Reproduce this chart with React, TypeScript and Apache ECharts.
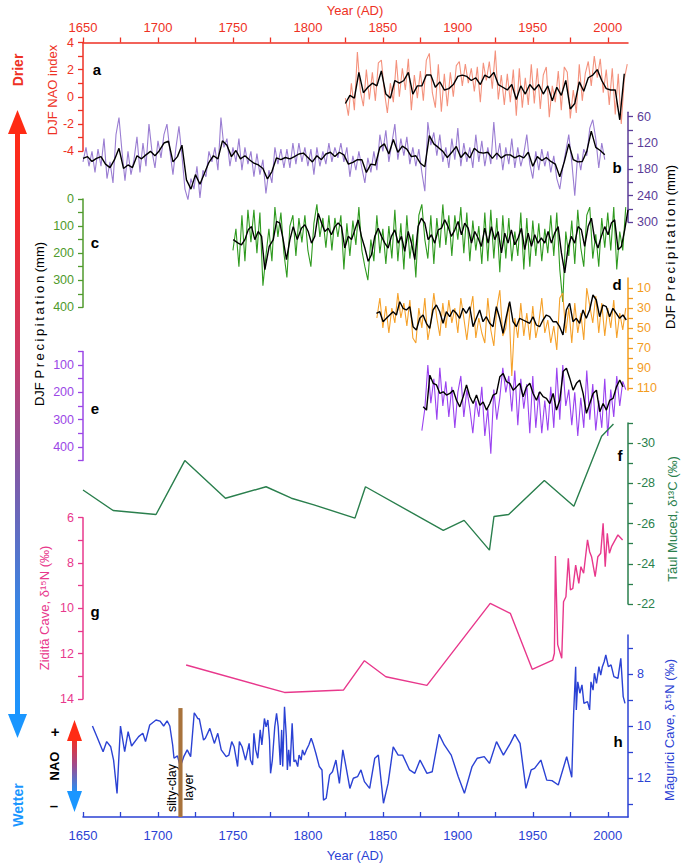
import React, { useEffect, useRef } from "react";
import * as echarts from "echarts";

const FONT = "'Liberation Sans', Arial, Helvetica, sans-serif";

// ---------- x axis (years) ----------
const xTickYears = [1650, 1675, 1700, 1725, 1750, 1775, 1800, 1825, 1850, 1875, 1900, 1925, 1950, 1975, 2000];
const xLabelYears = [1650, 1700, 1750, 1800, 1850, 1900, 1950, 2000];

// ---------- a: DJF NAO index ----------
const naoRawStart = 1825;
const naoRawStep = 2;
const naoRaw = [
  -0.1, -1.4, 1.0, -1.0, 3.3, 0.4, -0.7, 2.0, -0.2, 1.8,
  -0.3, 2.5, 2.7, 0.4, -1.2, 1.0, -0.4, 2.7, 0.0, 2.1,
  0.5, 2.8, -1.0, 1.6, -0.1, 1.9, -0.3, 2.7, 3.2, 0.3,
  -0.8, 2.4, -1.1, 1.7, -0.7, 1.8, 0.0, 2.3, 2.6, 0.8,
  2.4, 1.0, 2.1, 0.4, 2.2, -0.4, 2.5, 1.2, 2.6, 0.6,
  3.4, -0.2, 1.6, -0.6, 1.7, -0.4, 2.0, -1.4, 2.1, -0.8,
  1.4, -0.6, 2.4, -0.5, 2.1, -0.9, 1.6, 2.2, -1.5, 0.8,
  -0.4, 1.9, -1.0, 2.2, 1.8, -1.6, 0.5, -1.2, 2.4, -0.3,
  1.7, 2.6, 0.8, 3.0, 1.4, 2.8, 0.3, 2.0, -0.6, 2.1,
  -1.3, 1.7, -2.0, 1.3, 2.4,
];
const naoSmoothStart = 1825;
const naoSmoothStep = 3;
const naoSmooth = [
  -0.5, 0.1, -0.1, 1.8, 0.3, 0.7, 1.0, 0.8, 1.9, 0.2,
  -0.1, 1.2, 1.0, 1.2, 1.8, 0.2, 0.8, 0.8, 1.6, 1.6,
  0.7, 1.1, 0.5, 0.6, 0.9, 1.5, 1.6, 1.5, 1.2, 1.4,
  0.9, 1.6, 1.4, 1.8, 0.9, 0.7, 0.5, 0.9, -0.2, 0.8,
  0.2, 0.9, 0.5, 0.9, 0.2, 0.8, -0.3, 0.7, 0.1, 1.2,
  -0.9, -0.5, 1.1, 0.4, 1.4, 1.6, 2.0, 1.2, 0.6, 0.5,
  0.5, -1.7, 1.7,
];

// ---------- b: DJF precipitation (mm) ----------
const precBRawStart = 1650;
const precBRawStep = 2;
const precBRaw = [
  163, 130, 173, 139, 187, 134, 173, 110, 201, 163,
  211, 101, 62, 139, 206, 139, 192, 158, 106, 187,
  120, 173, 77, 139, 177, 115, 154, 101, 77, 139,
  192, 130, 82, 149, 225, 249, 201, 225, 173, 245,
  182, 197, 139, 163, 130, 182, 62, 130, 110, 173,
  130, 163, 110, 182, 130, 168, 139, 197, 144, 192,
  158, 235, 182, 211, 130, 168, 134, 177, 134, 177,
  120, 168, 120, 163, 130, 173, 134, 192, 130, 173,
  139, 168, 120, 163, 130, 154, 120, 163, 130, 197,
  149, 182, 139, 177, 211, 154, 187, 139, 182, 101,
  139, 91, 163, 120, 77, 158, 110, 149, 106, 168,
  130, 173, 134, 187, 230, 72, 125, 96, 149, 101,
  163, 130, 177, 110, 158, 86, 173, 120, 163, 130,
  177, 101, 163, 115, 173, 130, 168, 72, 158, 120,
  182, 130, 168, 110, 177, 130, 173, 144, 101, 168,
  201, 139, 182, 134, 173, 139, 187, 149, 201, 225,
  177, 139, 101, 163, 240, 144, 182, 134, 149, 86,
  67, 110, 177, 120, 158,
];
const precBSmoothStart = 1650;
const precBSmoothStep = 3;
const precBSmooth = [
  155, 151, 162, 155, 151, 168, 176, 158, 132, 178,
  170, 176, 149, 156, 147, 139, 149, 137, 120, 116,
  163, 151, 125, 204, 225, 192, 214, 189, 164, 149,
  156, 115, 125, 151, 137, 156, 149, 158, 166, 170,
  178, 202, 185, 154, 158, 153, 156, 151, 145, 143,
  153, 163, 149, 158, 145, 141, 151, 141, 147, 168,
  164, 158, 158, 187, 168, 170, 130, 122, 145, 112,
  141, 127, 134, 151, 149, 166, 174, 103, 122, 130,
  139, 153, 141, 128, 153, 141, 154, 132, 141, 143,
  141, 155, 143, 154, 147, 147, 154, 149, 154, 141,
  173, 151, 160, 153, 162, 168, 197, 163, 122, 158,
  163, 162, 139, 93, 130, 137, 147,
];

// ---------- c: DJF precipitation (mm) ----------
const precCRawStart = 1750;
const precCRawStep = 2;
const precCRaw = [
  190, 110, 250, 60, 230, 40, 160, 40, 200, 50,
  320, 210, 110, 230, 30, 140, 50, 200, 290, 100,
  60, 210, 70, 160, 60, 190, 250, 90, 20, 140,
  70, 180, 60, 190, 70, 140, 60, 260, 90, 210,
  80, 170, 30, 190, 250, 300, 150, 230, 60, 200,
  110, 240, 100, 220, 40, 230, 90, 260, 60, 220,
  130, 290, 60, 20, 150, 220, 60, 240, 70, 180,
  20, 170, 60, 210, 60, 150, 30, 200, 50, 230,
  80, 190, 100, 240, 50, 230, 40, 220, 70, 270,
  60, 220, 70, 230, 120, 210, 50, 260, 70, 250,
  80, 210, 90, 230, 110, 200, 60, 210, 50, 260,
  380, 120, 210, 80, 240, 40, 180, 250, 60, 30,
  220, 130, 250, 70, 180, 50, 190, 30, 260, 120,
  190, 30,
];
const precCSmooth: [number, number][] = [
  [1750.2, 150], [1753.5, 163], [1755.7, 169], [1758, 150], [1760.2, 114], [1762.4, 102], [1764.6, 150],
  [1766.9, 120], [1769.1, 138], [1771.3, 261], [1774.2, 175], [1776.9, 150], [1779.1, 83], [1781.3, 89],
  [1783.5, 150], [1785.7, 224], [1788, 150], [1790.2, 102], [1792.9, 150], [1795.7, 108], [1798, 95],
  [1800.2, 120], [1802.4, 163], [1804.6, 138], [1806.9, 53], [1809.1, 89], [1811.3, 120], [1813.5, 108],
  [1815.7, 132], [1818, 102], [1820.2, 89], [1822.4, 102], [1824.6, 181], [1826.9, 138], [1829.1, 150],
  [1831.3, 114], [1833.5, 77], [1835.7, 138], [1838, 181], [1840.2, 230], [1842.4, 206], [1844.6, 138],
  [1846.9, 108], [1849.1, 138], [1851.3, 163], [1853.5, 181], [1855.7, 138], [1858, 114], [1860.2, 163],
  [1862.4, 138], [1864.6, 193], [1866.9, 120], [1869.1, 163], [1871.3, 224], [1873.5, 102], [1875.7, 71],
  [1878, 89], [1880.2, 150], [1882.4, 132], [1884.6, 163], [1886.9, 114], [1889.1, 108], [1891.3, 77],
  [1893.5, 102], [1895.7, 138], [1898, 114], [1900.2, 83], [1902.4, 132], [1904.6, 89], [1906.9, 108],
  [1909.1, 163], [1911.3, 120], [1913.5, 144], [1915.7, 175], [1918, 108], [1920.2, 163], [1922.4, 102],
  [1924.6, 150], [1926.9, 120], [1929.1, 199], [1931.3, 126], [1933.5, 163], [1935.7, 114], [1938, 169],
  [1940.2, 144], [1942.4, 108], [1944.6, 187], [1946.9, 126], [1949.1, 175], [1951.3, 132], [1953.5, 163],
  [1955.7, 144], [1958, 163], [1960.2, 120], [1962.4, 163], [1964.6, 126], [1966.9, 102], [1969.1, 199],
  [1971.3, 273], [1973.5, 181], [1975.7, 138], [1978, 163], [1980.2, 102], [1982.4, 114], [1984.6, 175],
  [1986.9, 102], [1989.1, 71], [1991.3, 150], [1993.5, 181], [1995.7, 138], [1998, 102], [2000.2, 132],
  [2002.4, 89], [2004.6, 77], [2006.9, 187], [2009.1, 175], [2011.3, 114], [2013.5, 40],
];

// ---------- d: DJF precipitation (mm) ----------
const precDRawStart = 1846;
const precDRawStep = 2;
const precDRaw = [
  40, 20, 50, 28, 55, 30, 45, 15, 40, 25,
  48, 22, 60, 65, 30, 50, 20, 62, 45, 15,
  40, 58, 25, 50, 22, 45, 30, 55, 20, 40,
  62, 35, 18, 60, 40, 55, 65, 20, 52, 68,
  30, 12, 58, 50, 25, 98, 40, 60, 25, 58,
  35, 62, 28, 60, 45, 20, 55, 42, 65, 48,
  72, 20, 15, 55, 30, 65, 25, 55, 35, 62,
  10, 28, 45, 18, 55, 25, 58, 30, 50, 22,
  60, 35, 52, 30,
];
const precDSmoothStart = 1845.7;
const precDSmoothStep = 2.222;
const precDSmooth = [
  35.3, 33.7, 43.7, 40.3, 37, 33.7, 37, 23.7, 30.3, 32,
  28.7, 48.7, 52, 40.3, 37, 45.3, 50.3, 32, 27, 33.7,
  45.3, 33.7, 38.7, 32, 35.3, 40.3, 30.3, 35.3, 28.7, 48.7,
  40.3, 32, 43.7, 38.7, 45.3, 48.7, 28.7, 40.3, 55.3, 38.7,
  23.7, 43.7, 48.7, 40.3, 42, 43.7, 45.3, 38.7, 47, 48.7,
  42, 37, 38.7, 43.7, 43.7, 48.7, 57, 32, 25.3, 43.7,
  40.3, 45.3, 32, 40.3, 32, 17, 22, 38.7, 27, 28.7,
  38.7, 30.3, 35.3, 40.3, 37, 42,
];

// ---------- e: DJF precipitation (mm) ----------
const precERawStart = 1876;
const precERawStep = 2;
const precERaw = [
  340, 260, 100, 240, 150, 300, 110, 250, 160, 290,
  180, 330, 200, 140, 290, 190, 260, 350, 230, 290,
  180, 360, 260, 425, 190, 300, 220, 110, 200, 140,
  270, 120, 320, 150, 260, 170, 350, 140, 330, 200,
  350, 230, 340, 180, 330, 110, 300, 100, 250, 190,
  320, 200, 360, 220, 330, 120, 300, 170, 340, 230,
  330, 150, 360, 190, 290, 140, 250, 160, 190,
];
const precESmoothStart = 1876.9;
const precESmoothStep = 2.222;
const precESmooth = [
  253, 265, 137, 167, 173, 204, 198, 210, 204, 192,
  229, 253, 216, 173, 216, 241, 210, 247, 235, 265,
  241, 210, 204, 143, 131, 161, 167, 192, 180, 167,
  216, 180, 167, 204, 229, 198, 216, 222, 241, 204,
  265, 229, 124, 112, 149, 192, 167, 155, 204, 277,
  241, 204, 192, 271, 241, 265, 229, 222, 180, 155,
  180,
];

// ---------- f: Tăul Muced δ13C (‰) ----------
const taulMuced: [number, number][] = [
  [1650, -27.67], [1670.1, -26.65], [1698.7, -26.45], [1717.9, -29.13], [1745, -27.26], [1772.1, -27.83],
  [1789, -27.26], [1804, -26.93], [1831.4, -26.27], [1838.4, -27.83], [1890.3, -25.66], [1904.2, -26.16],
  [1921.1, -24.68], [1924.1, -26.35], [1933.9, -26.45], [1957.7, -28.14], [1977.4, -26.86], [1995.9, -30.34],
  [2003.8, -30.95],
];

// ---------- g: Zidită Cave δ15N (‰) ----------
const ziditaCave: [number, number][] = [
  [1718.8, 12.5], [1784.4, 13.71], [1823.8, 13.6], [1837.7, 12.31], [1852, 13.02], [1879.4, 13.4],
  [1921.6, 9.78], [1935, 10.22], [1949.6, 12.69], [1963.3, 12.28], [1964.4, 11.98], [1965.1, 7.69],
  [1966.6, 11.6], [1969.3, 12.2], [1970.5, 9.71], [1972.1, 9.49], [1973.7, 7.79], [1975.1, 9.19],
  [1976.7, 9.12], [1978.6, 8.09], [1980.7, 8.9], [1982.1, 8.16], [1983.9, 8.45], [1986.5, 6.98],
  [1987.9, 7.5], [1989.2, 7.72], [1991.6, 8.6], [1993.4, 7.72], [1995.3, 7.57], [1996.9, 6.25],
  [1998.3, 8.16], [1999.7, 6.69], [2001.1, 7.57], [2002.5, 7.28], [2006.8, 6.76], [2009.9, 6.98],
];

// ---------- h: Măgurici Cave δ15N (‰) ----------
const maguriciCave: [number, number][] = [
  [1656.3, 10.0], [1659.3, 10.41], [1663.4, 10.99], [1665.8, 10.6], [1668.5, 10.8], [1670.4, 11.31],
  [1672.7, 12.59], [1675, 10.0], [1677.8, 10.99], [1680.1, 10.22], [1682.4, 10.77], [1687.1, 10.41],
  [1689.9, 10.28], [1691.7, 10.6], [1694.5, 9.96], [1698.7, 9.77], [1701.4, 9.81], [1703.8, 10.0],
  [1706.1, 9.8], [1707.9, 10.0], [1709.8, 10.73], [1710.7, 11.24], [1713, 11.15], [1714.9, 11.56],
  [1717.2, 11.18], [1719.5, 10.92], [1721.8, 11.18], [1724.2, 9.49], [1726.5, 9.71], [1727.6, 9.73],
  [1730.4, 10.54], [1731.6, 10.47], [1734.6, 10.09], [1737.6, 10.67], [1739.9, 10.28], [1742.2, 10.92],
  [1745.5, 11.18], [1747.3, 11.12], [1749.2, 10.6], [1750.8, 10.8], [1753.1, 11.56], [1754.3, 10.6],
  [1756.1, 10.8], [1758.4, 11.31], [1760.8, 10.67], [1761.7, 11.31], [1763.1, 11.5], [1764, 10.28],
  [1765.2, 10.92], [1766.6, 11.24], [1768.2, 10.15], [1769.3, 10.73], [1771, 9.71], [1772.1, 10.03],
  [1773.3, 9.77], [1774.4, 10.54], [1775.1, 11.82], [1776.3, 11.31], [1777.9, 10.03], [1779.1, 9.51],
  [1780.2, 10.03], [1781.6, 11.5], [1782.5, 10.15], [1783.2, 11.56], [1784.4, 9.26], [1785.6, 10.41],
  [1786.3, 11.69], [1787.2, 10.92], [1788.1, 11.56], [1789.5, 9.9], [1790.7, 11.37], [1791.8, 11.31],
  [1793.2, 11.56], [1794.1, 11.12], [1795.5, 11.31], [1796.4, 10.92], [1797.6, 11.12], [1799, 10.92],
  [1800.6, 10.73], [1802.2, 10.47], [1803.4, 10.67], [1805.3, 11.05], [1807.6, 11.56], [1809.4, 11.69],
  [1810.4, 12.85], [1812.2, 12.78], [1814.5, 11.88], [1816.4, 11.76], [1818.7, 11.31], [1821, 12.21],
  [1823.3, 10.92], [1825.4, 11.56], [1828, 12.4], [1830.3, 12.01], [1833.1, 11.95], [1835.4, 11.69],
  [1837.7, 12.14], [1841.2, 12.4], [1844.6, 11.24], [1847, 11.12], [1850.4, 12.97], [1853.5, 12.21],
  [1856.9, 10.8], [1860.2, 11.12], [1863.2, 11.12], [1867.8, 11.69], [1871.3, 11.82], [1874.8, 11.31],
  [1879.4, 11.82], [1882.9, 11.76], [1887.5, 10.32], [1891, 10.73], [1895.6, 11.12], [1900.3, 11.95],
  [1904.4, 12.59], [1909.5, 11.56], [1913, 11.24], [1917.6, 11.18], [1921.1, 11.44], [1925.8, 10.6],
  [1930.4, 11.12], [1935, 10.67], [1938, 10.32], [1941.5, 10.67], [1945.4, 12.4], [1948.9, 11.69],
  [1951.2, 11.63], [1955.4, 11.31], [1959.3, 12.08], [1962.8, 12.1], [1967, 12.27], [1972.6, 11.18],
  [1976, 11.97], [1977.2, 9.58], [1978.6, 7.72], [1979, 9.38], [1980, 8.3], [1981.4, 8.74],
  [1982.8, 8.42], [1984.1, 9.13], [1986.5, 9.06], [1987.9, 9.38], [1988.8, 8.3], [1990.2, 8.62],
  [1991.1, 7.97], [1992.5, 8.36], [1994.1, 7.72], [1995.3, 8.04], [1996.4, 7.72], [1997.6, 7.53],
  [1998.7, 7.27], [2000.4, 7.72], [2002.2, 7.65], [2004.1, 8.1], [2006.8, 8.17], [2008.7, 7.4],
  [2010.3, 8.87], [2011.5, 9.13],
];

// silty-clay layer: [yearFrom, yearTo, valueTop, valueBottom] on the h axis
const siltyClayLayer = [[1713.6, 1716.4, 9.31, 13.5]];

// ---------- axis ticks ----------
const aTicks = [-4, -3, -2, -1, 0, 1, 2, 3, 4];
const aLabels = [-4, -2, 0, 2, 4];
const bTicks = [60, 90, 120, 150, 180, 210, 240, 270, 300];
const bLabels = [60, 120, 180, 240, 300];
const cTicks = [0, 50, 100, 150, 200, 250, 300, 350, 400];
const cLabels = [0, 100, 200, 300, 400];
const dTicks = [10, 20, 30, 40, 50, 60, 70, 80, 90, 100, 110];
const dLabels = [10, 30, 50, 70, 90, 110];
const eTicks = [50, 100, 150, 200, 250, 300, 350, 400, 450];
const eLabels = [100, 200, 300, 400];
const fTicks = [-31, -30, -29, -28, -27, -26, -25, -24, -23, -22];
const fLabels = [-30, -28, -26, -24, -22];
const gTicks = [6, 7, 8, 9, 10, 11, 12, 13, 14];
const gLabels = [6, 8, 10, 12, 14];
const hTicks = [7, 8, 9, 10, 11, 12, 13];
const hLabels = [8, 10, 12];

const C = {
  red: "#ee3124",
  naoRaw: "#f4927d",
  bAxis: "#5b3c98",
  bRaw: "#9a7dd2",
  cAxis: "#4f9a2c",
  cRaw: "#2f9a1f",
  dAxis: "#f39c1e",
  dRaw: "#f5a12a",
  eAxis: "#9b47e6",
  eRaw: "#9a42f0",
  f: "#2a7f4d",
  g: "#e8388c",
  h: "#2b42d4",
  brown: "#a8733c",
};

const series1 = (start: number, step: number, vals: number[]) => vals.map((v, i) => [start + i * step, v]);

export default function App() {
  const ref = useRef<HTMLDivElement>(null);

  useEffect(() => {
    document.body.style.margin = "0";
    if (!ref.current) return;
    const chart = echarts.init(ref.current, null, { renderer: "svg" });

    const L = 83;
    const R = 57;
    const grids = [
      { top: 42.5, height: 108.5 },
      { top: 112.3, height: 109.7 },
      { top: 199, height: 108.3 },
      { top: 278, height: 112 },
      { top: 351.4, height: 109.2 },
      { top: 423, height: 181 },
      { top: 517.7, height: 181.3 },
      { top: 635, height: 182 },
    ];

    const plain = (v: number) => String(v);

    const yAx = (
      i: number,
      pos: "left" | "right",
      color: string,
      min: number,
      max: number,
      inverse: boolean,
      ticks: number[],
      labels: number[]
    ) => ({
      type: "value",
      gridIndex: i,
      position: pos,
      min,
      max,
      inverse,
      axisLine: { show: true, onZero: false, lineStyle: { color, width: 1.5 } },
      axisTick: { show: true, length: 5, customValues: ticks, lineStyle: { color, width: 1.3 } },
      axisLabel: {
        show: true,
        customValues: labels,
        formatter: plain,
        color,
        fontSize: 12.5,
        fontFamily: FONT,
        margin: 9,
      },
      splitLine: { show: false },
    });

    const xAx = (i: number) => {
      const shown = i === 0 || i === 7;
      const color = i === 0 ? C.red : C.h;
      return {
        type: "value",
        gridIndex: i,
        min: 1650,
        max: 2013.5,
        show: shown,
        position: i === 0 ? "top" : "bottom",
        axisLine: { show: shown, onZero: false, lineStyle: { color, width: 1.5 } },
        axisTick: {
          show: shown,
          inside: i === 7,
          length: 5,
          customValues: xTickYears,
          lineStyle: { color, width: 1.3 },
        },
        axisLabel: {
          show: shown,
          customValues: xLabelYears,
          formatter: plain,
          color,
          fontSize: 13,
          fontFamily: FONT,
          margin: i === 0 ? 9 : 12,
        },
        splitLine: { show: false },
      };
    };

    const line = (xi: number, data: number[][], color: string, width: number, z: number) => ({
      type: "line",
      xAxisIndex: xi,
      yAxisIndex: xi,
      data,
      symbol: "none",
      silent: true,
      z,
      lineStyle: { color, width },
    });

    const rot = Math.PI / 2;
    const vtext = (x: number, y: number, text: string, color: string, size: number, weight = "normal") => ({
      type: "text",
      x,
      y,
      rotation: rot,
      silent: true,
      style: {
        text,
        fill: color,
        fontSize: size,
        fontWeight: weight,
        fontFamily: FONT,
        align: "center",
        verticalAlign: "middle",
        textAlign: "center",
        textVerticalAlign: "middle",
      },
    });
    const htext = (x: number, y: number, t: string, color: string, size: number, weight = "normal") => ({
      type: "text",
      x,
      y,
      silent: true,
      style: {
        text: t,
        fill: color,
        fontSize: size,
        fontWeight: weight,
        fontFamily: FONT,
        align: "center",
        verticalAlign: "middle",
        textAlign: "center",
        textVerticalAlign: "middle",
      },
    });
    const letter = (x: number, y: number, t: string) => htext(x, y, t, "#000", 15, "bold");

    const bigGrad = new echarts.graphic.LinearGradient(0, 0, 0, 1, [
      { offset: 0, color: "#ff2b14" },
      { offset: 0.15, color: "#f42b2c" },
      { offset: 0.38, color: "#cc3a66" },
      { offset: 0.6, color: "#7c5cab" },
      { offset: 0.8, color: "#3b84e2" },
      { offset: 1, color: "#1a96ff" },
    ]);
    const smallGrad = new echarts.graphic.LinearGradient(0, 0, 0, 1, [
      { offset: 0, color: "#ff2b14" },
      { offset: 0.5, color: "#a04a8c" },
      { offset: 1, color: "#1a96ff" },
    ]);

    const precLabel = "DJF P\u2009r\u2009e\u2009c\u2009i\u2009p\u2009i\u2009t\u2009a\u2009t\u2009i\u2009o\u2009n (mm)";

    const graphic = [
      // big Drier/Wetter arrow
      { type: "rect", silent: true, shape: { x: 15, y: 128, width: 5, height: 590 }, style: { fill: bigGrad } },
      { type: "polygon", silent: true, shape: { points: [[17.5, 110], [8, 134], [27, 134]] }, style: { fill: "#ff2b14" } },
      { type: "polygon", silent: true, shape: { points: [[17.5, 738], [8, 714], [27, 714]] }, style: { fill: "#1a96ff" } },
      vtext(18, 70, "Drier", C.red, 14, "bold"),
      vtext(18, 805, "Wetter", "#1a96ff", 14, "bold"),
      // NAO small arrow
      { type: "rect", silent: true, shape: { x: 72, y: 736, width: 5, height: 58 }, style: { fill: smallGrad } },
      { type: "polygon", silent: true, shape: { points: [[74.5, 720], [67, 741], [82, 741]] }, style: { fill: "#ff2b14" } },
      { type: "polygon", silent: true, shape: { points: [[74.5, 812], [67, 791], [82, 791]] }, style: { fill: "#1a96ff" } },
      vtext(54, 766, "NAO", "#000", 13, "bold"),
      htext(55, 731, "+", "#000", 15, "bold"),
      htext(54, 805, "\u2013", "#000", 15, "bold"),
      // axis titles
      htext(355, 10, "Year (AD)", C.red, 13),
      htext(355, 855, "Year (AD)", C.h, 13),
      vtext(52, 90, "DJF NAO index", C.red, 13),
      vtext(39, 324, precLabel, "#000", 13),
      vtext(670, 247, precLabel, "#000", 13),
      vtext(672, 519, "Tăul Muced, δ¹³C (‰)", C.f, 13),
      vtext(44, 608, "Zidită Cave, δ¹⁵N (‰)", C.g, 13),
      vtext(669, 730, "Măgurici Cave, δ¹⁵N (‰)", C.h, 13),
      vtext(172, 788, "silty-clay", "#000", 12.5),
      vtext(189, 787, "layer", "#000", 12.5),
      // panel letters
      letter(97, 69, "a"),
      letter(617, 167, "b"),
      letter(95, 242, "c"),
      letter(617, 284, "d"),
      letter(95, 408, "e"),
      letter(620, 455, "f"),
      letter(95, 611, "g"),
      letter(618, 741, "h"),
    ];

    const option = {
      animation: false,
      grid: grids.map((g) => ({
        left: L,
        right: R,
        top: g.top,
        height: g.height,
        containLabel: false,
        outerBoundsMode: "none",
      })),
      xAxis: grids.map((_, i) => xAx(i)),
      yAxis: [
        yAx(0, "left", C.red, -4, 4, false, aTicks, aLabels),
        yAx(1, "right", C.bAxis, 50, 300, true, bTicks, bLabels),
        yAx(2, "left", C.cAxis, 0, 400, true, cTicks, cLabels),
        yAx(3, "right", C.dAxis, 0, 112, true, dTicks, dLabels),
        yAx(4, "left", C.eAxis, 50, 450, true, eTicks, eLabels),
        yAx(5, "right", C.f, -31, -22, true, fTicks, fLabels),
        yAx(6, "left", C.g, 6, 14, true, gTicks, gLabels),
        yAx(7, "right", C.h, 6.5, 13.5, true, hTicks, hLabels),
      ],
      series: [
        line(0, series1(naoRawStart, naoRawStep, naoRaw), C.naoRaw, 1.1, 2),
        line(0, series1(naoSmoothStart, naoSmoothStep, naoSmooth), "#000", 1.4, 3),
        line(1, series1(precBRawStart, precBRawStep, precBRaw), C.bRaw, 1.1, 2),
        line(1, series1(precBSmoothStart, precBSmoothStep, precBSmooth), "#000", 1.4, 3),
        line(2, series1(precCRawStart, precCRawStep, precCRaw), C.cRaw, 1.1, 2),
        line(2, precCSmooth, "#000", 1.4, 3),
        line(3, series1(precDRawStart, precDRawStep, precDRaw), C.dRaw, 1.1, 2),
        line(3, series1(precDSmoothStart, precDSmoothStep, precDSmooth), "#000", 1.4, 3),
        line(4, series1(precERawStart, precERawStep, precERaw), C.eRaw, 1.1, 2),
        line(4, series1(precESmoothStart, precESmoothStep, precESmooth), "#000", 1.4, 3),
        line(5, taulMuced, C.f, 1.4, 2),
        line(6, ziditaCave, C.g, 1.4, 2),
        line(7, maguriciCave, C.h, 1.4, 2),
        {
          type: "custom",
          xAxisIndex: 7,
          yAxisIndex: 7,
          z: 10,
          silent: true,
          data: siltyClayLayer,
          renderItem: (params: any, api: any) => {
            const p1 = api.coord([api.value(0), api.value(2)]);
            const p2 = api.coord([api.value(1), api.value(3)]);
            return {
              type: "rect",
              shape: { x: p1[0], y: p1[1], width: p2[0] - p1[0], height: p2[1] - p1[1] },
              style: { fill: C.brown },
            };
          },
        },
      ],
      graphic,
    };

    chart.setOption(option as any);
    return () => chart.dispose();
  }, []);

  return <div ref={ref} style={{ width: 685, height: 863 }} />;
}
